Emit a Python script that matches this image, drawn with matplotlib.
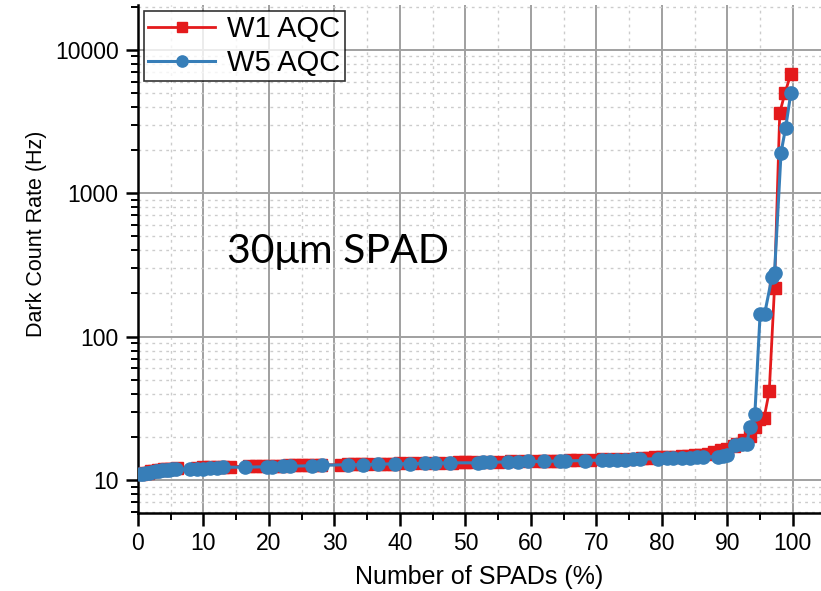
import numpy as np
import matplotlib.pyplot as plt
from matplotlib.ticker import LogLocator, NullFormatter, MultipleLocator

# W1 AQC (red squares)
w1_x = [0.5, 1, 1.5, 2, 2.5, 3, 3.5, 4, 4.5, 5, 6,
        9, 10, 11, 12, 13, 14,
        17, 18, 19, 20, 21, 22, 23, 24, 25, 26, 27, 28,
        31, 32, 33, 34, 35, 37, 38, 39, 40, 42, 44, 46, 48, 49, 50, 51,
        53, 55, 57, 59, 61, 62, 63, 64, 66, 67, 69, 71, 73, 75, 77,
        78, 79, 80, 81, 82, 83, 84, 85, 86, 87, 88, 89, 90,
        91, 91.5, 92.5, 93.4, 94.2, 94.9, 95.6, 96.4, 97.2, 98, 98.8, 99.7]
w1_y = [11.0, 11.2, 11.3, 11.5, 11.6, 11.7, 11.8, 11.9, 12.0, 12.0, 12.1,
        12.2, 12.3, 12.3, 12.3, 12.4, 12.4,
        12.5, 12.5, 12.5, 12.6, 12.6, 12.6, 12.7, 12.7, 12.7, 12.7, 12.8, 12.8,
        12.8, 12.9, 12.9, 12.9, 12.9, 13.0, 13.0, 13.0, 13.1, 13.1, 13.1, 13.2, 13.2, 13.3, 13.3, 13.3,
        13.4, 13.4, 13.5, 13.5, 13.6, 13.6, 13.7, 13.7, 13.8, 13.8, 13.9, 14.0, 14.0, 14.1, 14.2,
        14.3, 14.4, 14.5, 14.5, 14.6, 14.7, 14.8, 14.9, 15.0, 15.3, 15.8, 16.2, 16.6,
        17.2, 18.0, 18.9, 20.2, 23.4, 26.5, 27.0, 41.6, 220, 3630, 5000, 6800]

# W5 AQC (blue circles)
w5_x = [0.3, 0.8, 1.2, 1.7, 2.2, 2.7, 3.2, 3.7, 4.2, 4.7, 5.2, 5.8,
        7.9, 9, 10, 11, 12, 13, 16.3, 19.7, 20.4, 22.1, 23.2, 26.5, 28.1,
        32, 34.4, 36.7, 39.2, 41.5, 43.8, 45.3, 47.6, 51.9, 52.7, 53.7,
        56.5, 58, 59.5, 62, 64.4, 65.2, 68.2, 70.8, 72, 73.1, 74.4, 75.6, 76.6,
        79.4, 80.8, 81.7, 83, 84.3, 85.3, 86.3, 88.5, 89.3, 90,
        91.1, 92.2, 93, 93.4, 94.2, 95, 95.7, 96.8, 97.2, 98.2, 98.9, 99.7]
w5_y = [11.0, 11.1, 11.2, 11.3, 11.4, 11.5, 11.6, 11.7, 11.8, 11.8, 11.9, 12.0,
        11.9, 12.0, 12.0, 12.1, 12.2, 12.3, 12.3, 12.4, 12.4, 12.5, 12.5, 12.6, 12.7,
        12.8, 12.8, 12.9, 13.0, 13.0, 13.1, 13.1, 13.2, 13.2, 13.3, 13.3,
        13.4, 13.4, 13.5, 13.5, 13.6, 13.6, 13.7, 13.8, 13.8, 13.9, 13.9, 14.0, 14.0,
        14.1, 14.2, 14.2, 14.3, 14.3, 14.4, 14.5, 14.6, 14.7, 15.0,
        17.5, 17.8, 18.0, 23.4, 28.8, 143, 145, 259, 276, 1920, 2860, 5010]

red = '#e41a1c'
blue = '#377eb8'

plt.rcParams['font.family'] = ['Liberation Sans', 'DejaVu Sans']

fig = plt.figure(figsize=(8.21, 5.91), dpi=100)
ax = fig.add_axes([138 / 821, 1 - 513 / 591, 1 - 138 / 821, (513 - 5) / 591])

ax.plot(w1_x, w1_y, color=red, lw=2, marker='s', ms=8.5, mec=red, mfc=red, label='W1 AQC', zorder=3)
ax.plot(w5_x, w5_y, color=blue, lw=2.2, marker='o', ms=9.5, mec=blue, mfc=blue, label='W5 AQC', zorder=4)

ax.set_yscale('log')
ax.set_xlim(0, 104.3)
ax.set_ylim(5.9, 20500)

ax.xaxis.set_major_locator(MultipleLocator(10))
ax.xaxis.set_minor_locator(MultipleLocator(5))
ax.yaxis.set_minor_locator(LogLocator(base=10, subs=np.arange(2, 10), numticks=20))
ax.yaxis.set_minor_formatter(NullFormatter())
ax.set_yticks([10, 100, 1000, 10000])
ax.set_yticklabels(['10', '100', '1000', '10000'])

ax.grid(which='major', color='#a0a0a0', lw=1.4, ls='-')
ax.grid(which='minor', color='#cccccc', lw=1, ls=(0, (2, 3)))
ax.set_axisbelow(True)

for s in ['top', 'right']:
    ax.spines[s].set_visible(False)
for s in ['left', 'bottom']:
    ax.spines[s].set_linewidth(1.8)

ax.tick_params(which='major', direction='out', length=9, width=1.8, labelsize=16.5, pad=5)
ax.tick_params(which='minor', direction='out', length=5, width=1.4)

ax.set_xlabel('Number of SPADs (%)', fontsize=18)
ax.xaxis.set_label_coords(0.5, -0.103)
ax.set_ylabel('Dark Count Rate (Hz)', fontsize=15.5)
ax.yaxis.set_label_coords(-0.133, 0.55)

ax.text(13.6, 324, '30μm SPAD', fontsize=29.5, family=['Lato', 'DejaVu Sans'],
        va='baseline', ha='left')

leg = ax.legend(loc='upper left', fontsize=21, frameon=True, fancybox=False,
                edgecolor='black', handlelength=2.3, borderpad=0.15, labelspacing=0.2,
                handletextpad=0.4, borderaxespad=0.2, markerscale=0.85)
leg.get_frame().set_linewidth(1.2)

fig.savefig('out.png', dpi=100)
